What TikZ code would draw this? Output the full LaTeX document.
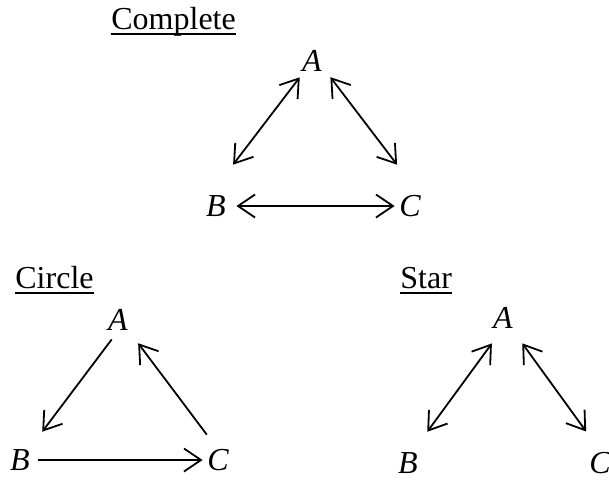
\documentclass[tikz,border=0pt]{standalone}
\usepackage{fontspec}
\setmainfont{Liberation Serif}
\usetikzlibrary{arrows.meta}
\newlength{\headw}
\newcommand{\headline}[1]{\settowidth{\headw}{#1}\rlap{\rule[-3.1pt]{\headw}{0.9pt}}#1}

\begin{document}
\begin{tikzpicture}[
      x=0.5pt, y=-0.5pt,
      >={Straight Barb[length=8.5pt,width=11.5pt]},
      vertex/.style={
        circle, inner sep=0pt, minimum size=20pt,
        font=\fontsize{16}{19}\selectfont\itshape
      },
      heading/.style={
        anchor=base west, inner sep=0pt,
        font=\fontsize{16}{19}\selectfont
      },
      link/.style={line width=0.9pt}
    ]
      \useasboundingbox (0,0) rectangle (609,479);
      % complete graph
      \node[heading] (tcomp) at (111,29) {\headline{Complete}};
      \node[vertex] (ca) at (312,61)  {A};
      \node[vertex] (cb) at (216,206) {B};
      \node[vertex] (cc) at (410,206) {C};
      \draw[link, <->, shorten >=13.2pt] (ca.233) -- (cb.87);
      \draw[link, <->, shorten <=2.1pt, shorten >=13.3pt] (ca.321) -- (cc.81);
      \draw[link, <->, shorten >=-2.5pt] (cb.0) -- (cc.180);
      % circle
      \node[heading] (tcirc) at (15,288) {\headline{Circle}};
      \node[vertex] (ra) at (118,320) {A};
      \node[vertex] (rb) at (20,460)  {B};
      \node[vertex] (rc) at (218,460) {C};
      \draw[link, ->, shorten >=7.8pt] (ra.252) -- (rb.51);
      \draw[link, ->, shorten <=3.8pt, shorten >=5.2pt] (rc.109) -- (ra.313);
      \draw[link, ->, shorten <=-1pt, shorten >=-2.5pt] (rb.0) -- (rc.180);
      % star
      \node[heading] (tstar) at (400,288) {\headline{Star}};
      \node[vertex] (sa) at (503,318) {A};
      \node[vertex] (sb) at (408,463) {B};
      \node[vertex] (sc) at (600,463) {C};
      \draw[link, <->, shorten <=3.8pt, shorten >=8.2pt] (sa.251) -- (sb.62);
      \draw[link, <->, shorten <=5.7pt, shorten >=7.3pt] (sa.308) -- (sc.105);
    \end{tikzpicture}
\end{document}
